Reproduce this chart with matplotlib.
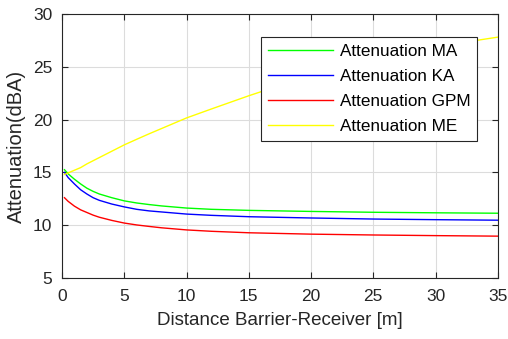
import matplotlib
matplotlib.use("Agg")
import matplotlib.pyplot as plt

# distance from barrier to receiver [m]
distance = [0.2, 0.5, 1, 1.5, 2, 2.5, 3, 4, 5, 6, 7, 8, 10, 12, 15, 20, 25, 30, 35]

# attenuation [dBA] for each model
att_ma = [15.25, 14.85, 14.35, 13.9, 13.5, 13.2, 12.95, 12.6, 12.3, 12.1, 11.95,
          11.82, 11.62, 11.5, 11.4, 11.3, 11.22, 11.17, 11.13]
att_ka = [15.0, 14.5, 13.9, 13.35, 12.95, 12.6, 12.35, 12.0, 11.73, 11.5, 11.35,
          11.25, 11.05, 10.93, 10.8, 10.68, 10.58, 10.52, 10.47]
att_gpm = [12.6, 12.25, 11.8, 11.45, 11.2, 10.95, 10.75, 10.45, 10.2, 10.02, 9.88,
           9.75, 9.55, 9.42, 9.28, 9.15, 9.07, 9.01, 8.96]
att_me = [14.8, 14.95, 15.2, 15.45, 15.8, 16.1, 16.4, 17.0, 17.6, 18.13, 18.65,
          19.15, 20.15, 21.0, 22.25, 24.2, 25.7, 26.9, 27.8]

labels = ["Attenuation MA", "Attenuation KA", "Attenuation GPM", "Attenuation ME"]
colors = ["#00ff00", "#0000ff", "#ff0000", "#ffff00"]

plt.rcParams["font.family"] = ["Liberation Sans", "DejaVu Sans"]
dark = "#262626"

fig = plt.figure(figsize=(5.08, 3.39), dpi=100)
ax = fig.add_axes([0.122, 0.180, 0.858, 0.779])

for y, lab, c in zip([att_ma, att_ka, att_gpm, att_me], labels, colors):
    ax.plot(distance, y, color=c, linewidth=1.0, label=lab)

ax.set_xlim(0, 35)
ax.set_ylim(5, 30)
ax.set_xticks([0, 5, 10, 15, 20, 25, 30, 35])
ax.set_yticks([5, 10, 15, 20, 25, 30])
ax.grid(True, color="#dcdcdc", linewidth=0.8)
ax.set_axisbelow(True)

for s in ax.spines.values():
    s.set_color(dark)
    s.set_linewidth(0.8)
ax.tick_params(direction="in", length=4, width=0.8, color=dark, labelcolor=dark,
               labelsize=12.5, top=True, right=True)
ax.tick_params(axis="x", pad=8)
ax.tick_params(axis="y", pad=7)

ax.set_xlabel("Distance Barrier-Receiver [m]", fontsize=13.5, color=dark, labelpad=6)
ax.set_ylabel("Attenuation(dBA)", fontsize=14.5, color=dark, labelpad=5)

leg = ax.legend(loc="upper right", bbox_to_anchor=(0.953, 0.913), fontsize=12.3,
                frameon=True, fancybox=False, handlelength=3.8, handletextpad=0.4,
                labelspacing=0.6, borderpad=0.4, borderaxespad=0)
leg.get_frame().set_edgecolor(dark)
leg.get_frame().set_linewidth(0.8)
leg.get_frame().set_alpha(1)

fig.savefig("out.png", dpi=100)
